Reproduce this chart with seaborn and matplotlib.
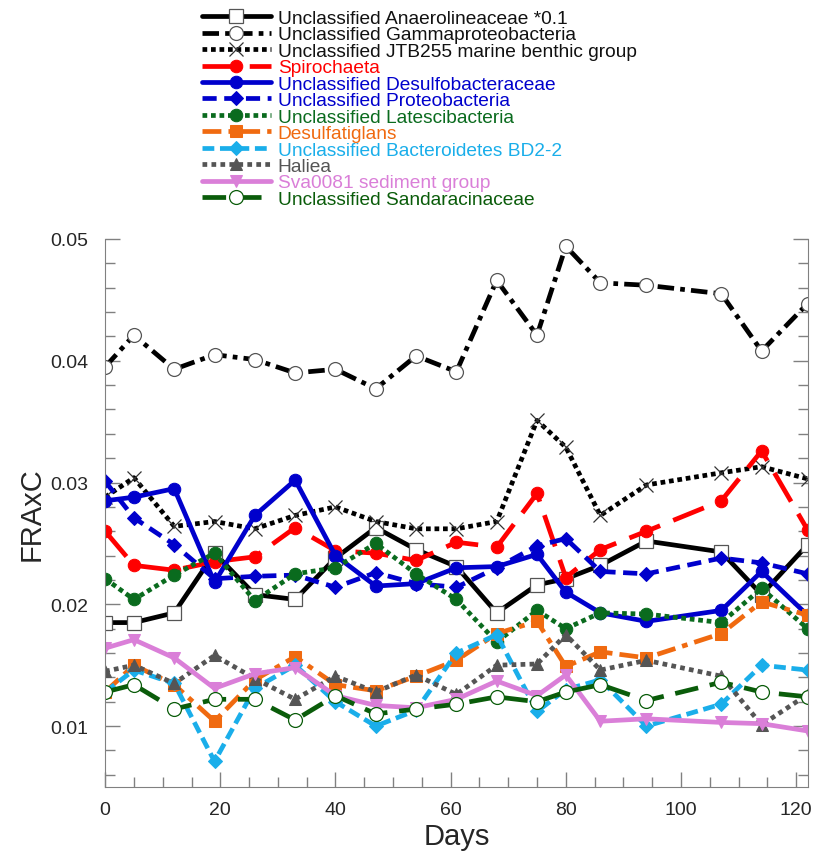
import numpy as np
import pandas as pd
import seaborn as sns
import matplotlib.pyplot as plt
from matplotlib.ticker import MultipleLocator

sns.set_style("ticks")
plt.rcParams['font.family'] = ['Liberation Sans', 'DejaVu Sans']

# sampling days
days = [0, 5, 12, 19, 26, 33, 40, 47, 54, 61, 68, 75, 80, 86, 94, 107, 114, 122]

# FRAxC values
anaerolineaceae = [0.0185, 0.0185, 0.0193, 0.0242, 0.0208, 0.0204, 0.0238, 0.0263, 0.0245, 0.0231,
                   0.0193, 0.0216, 0.0221, 0.0232, 0.0252, 0.0243, 0.0208, 0.0249]
gammaproteo = [0.0395, 0.0421, 0.0393, 0.0405, 0.0401, 0.0390, 0.0393, 0.0377, 0.0404, 0.0391,
               0.0466, 0.0421, 0.0494, 0.0464, 0.0462, 0.0455, 0.0408, 0.0447]
jtb255 = [0.0288, 0.0304, 0.0264, 0.0268, 0.0262, 0.0273, 0.0280, 0.0268, 0.0262, 0.0262,
          0.0268, 0.0351, 0.0329, 0.0273, 0.0298, 0.0308, 0.0313, 0.0303]
spirochaeta = [0.0260, 0.0232, 0.0228, 0.0235, 0.0239, 0.0263, 0.0244, 0.0242, 0.0236, 0.0251,
               0.0247, 0.0291, 0.0222, 0.0245, 0.0260, 0.0285, 0.0326, 0.0261]
desulfobact = [0.0285, 0.0288, 0.0295, 0.0218, 0.0273, 0.0302, 0.0240, 0.0215, 0.0217, 0.0230,
               0.0231, 0.0241, 0.0210, 0.0193, 0.0186, 0.0195, 0.0227, 0.0191]
proteobact = [0.0301, 0.0271, 0.0249, 0.0221, 0.0223, 0.0224, 0.0214, 0.0226, 0.0217, 0.0214,
              0.0230, 0.0248, 0.0254, 0.0227, 0.0225, 0.0238, 0.0234, 0.0225]
latescibact = [0.0221, 0.0204, 0.0224, 0.0242, 0.0203, 0.0225, 0.0230, 0.0250, 0.0225, 0.0204,
               0.0169, 0.0195, 0.0180, 0.0193, 0.0192, 0.0185, 0.0213, 0.0180]
desulfatiglans = [0.0128, 0.0150, 0.0134, 0.0104, 0.0138, 0.0157, 0.0134, 0.0129, 0.0141, 0.0154,
                  0.0176, 0.0186, 0.0149, 0.0161, 0.0156, 0.0176, 0.0202, 0.0191]
bd2_2 = [0.0128, 0.0146, 0.0135, 0.0071, 0.0131, 0.0150, 0.0120, 0.0100, 0.0113, 0.0160,
         0.0175, 0.0112, 0.0130, 0.0138, 0.0100, 0.0118, 0.0150, 0.0146]
haliea = [0.0145, 0.0150, 0.0135, 0.0158, 0.0139, 0.0122, 0.0141, 0.0128, 0.0142, 0.0126,
          0.0150, 0.0151, 0.0175, 0.0146, 0.0154, 0.0141, 0.0101, 0.0126]
sva0081 = [0.0164, 0.0171, 0.0156, 0.0131, 0.0143, 0.0148, 0.0125, 0.0117, 0.0115, 0.0122,
           0.0137, 0.0125, 0.0142, 0.0104, 0.0106, 0.0103, 0.0102, 0.0096]
sandaracin = [0.0128, 0.0134, 0.0114, 0.0122, 0.0122, 0.0105, 0.0125, 0.0110, 0.0114, 0.0118,
              0.0124, 0.0120, 0.0128, 0.0134, 0.0121, 0.0136, 0.0128, 0.0124]

# label, values, colour, linestyle, marker, open marker?
series = [
    ("Unclassified Anaerolineaceae *0.1", anaerolineaceae, "black", "-", "s", True),
    ("Unclassified Gammaproteobacteria", gammaproteo, "black", (0, (3.5, 1.3, 1, 1.3)), "o", True),
    ("Unclassified JTB255 marine benthic group", jtb255, "black", (0, (1, 0.8)), "x", True),
    ("Spirochaeta", spirochaeta, "#ff0000", (0, (7, 3)), "o", False),
    ("Unclassified Desulfobacteraceae", desulfobact, "#0000cc", "-", "o", False),
    ("Unclassified Proteobacteria", proteobact, "#0000cc", (0, (3, 1.6)), "D", False),
    ("Unclassified Latescibacteria", latescibact, "#0a6b1e", (0, (1, 0.8)), "o", False),
    ("Desulfatiglans", desulfatiglans, "#f06a10", (0, (4, 1.5, 1.2, 1.5)), "s", False),
    ("Unclassified Bacteroidetes BD2-2", bd2_2, "#1aaeea", (0, (2.5, 1.2)), "D", False),
    ("Haliea", haliea, "#555555", (0, (1, 0.9)), "^", False),
    ("Sva0081 sediment group", sva0081, "#da7fd8", "-", "v", False),
    ("Unclassified Sandaracinaceae", sandaracin, "#0a5c0a", (0, (5, 2.5)), "o", True),
]

fig = plt.figure(figsize=(8.15, 8.54), dpi=100)
ax = fig.add_axes([0.129, 0.0773, 0.862, 0.6417])

handles = []
for label, vals, col, ls, mk, hollow in series:
    df = pd.DataFrame({"Days": days, "FRAxC": vals})
    kw = dict(color=col, linewidth=3.4, linestyle=ls, marker=mk, markersize=9)
    if mk == "x":
        kw.update(markeredgecolor="#333333", markeredgewidth=0.9, markersize=10)
    elif hollow:
        ec = "#555555" if col == "black" else col
        kw.update(markerfacecolor="white", markeredgecolor=ec, markeredgewidth=0.9, markersize=10)
    else:
        kw.update(markeredgecolor=col)
    if mk == "D":
        kw["markersize"] = 7.5
    sns.lineplot(data=df, x="Days", y="FRAxC", ax=ax, **kw)
    handles.append(ax.lines[-1])

ax.set_xlim(0, 122)
ax.set_ylim(0.005, 0.05)
ax.xaxis.set_major_locator(MultipleLocator(20))
ax.xaxis.set_minor_locator(MultipleLocator(5))
ax.yaxis.set_major_locator(MultipleLocator(0.01))
ax.yaxis.set_minor_locator(MultipleLocator(0.002))
ax.tick_params(which="both", direction="in", right=True, color="#808080", labelsize=14)
ax.tick_params(which="major", length=11, width=1)
ax.tick_params(which="minor", length=7, width=1)
ax.tick_params(axis="y", which="both", pad=12)
ax.tick_params(axis="x", which="both", pad=10)
ax.set_yticks([0.01, 0.02, 0.03, 0.04, 0.05])
ax.set_yticklabels(["0.01", "0.02", "0.03", "0.04", "0.05"])
for s in ["left", "right", "bottom"]:
    ax.spines[s].set_color("#808080")
ax.spines["top"].set_visible(False)
ax.set_xlabel("Days", fontsize=21)
ax.set_ylabel("FRAxC", fontsize=21)
ax.yaxis.set_label_coords(-0.085, 0.5)
ax.xaxis.set_label_coords(0.5, -0.064)

leg = fig.legend(handles, [s[0] for s in series], loc="upper left",
                 bbox_to_anchor=(0.236, 0.999), frameon=False, fontsize=13.8,
                 handlelength=3.6, handletextpad=0.35, labelspacing=-0.05, borderpad=0)
for t, s in zip(leg.get_texts(), series):
    t.set_color(s[2] if s[2] != "black" else "#111111")

fig.savefig("out.png", dpi=100)
